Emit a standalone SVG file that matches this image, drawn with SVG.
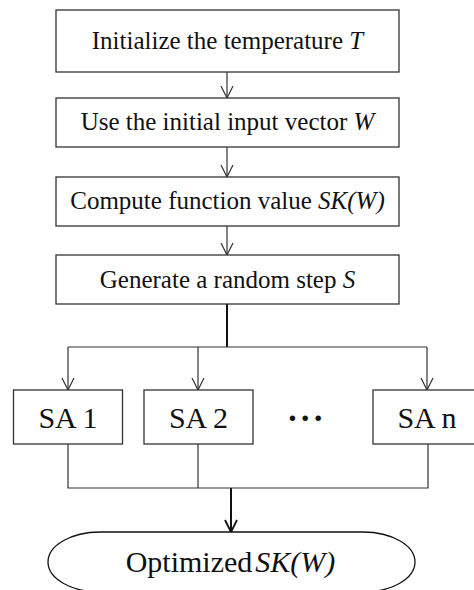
<svg xmlns="http://www.w3.org/2000/svg" width="474" height="590" viewBox="0 0 474 590">
<defs>
<style>
.box{fill:#fff;stroke:#333;stroke-width:1.3}
.t{font-family:"Liberation Serif","Times New Roman",serif;font-size:25px;fill:#111;text-anchor:middle}
.sa{font-family:"Liberation Serif","Times New Roman",serif;font-size:30px;fill:#111;text-anchor:middle}
.it{font-style:italic}
.ln{fill:none;stroke:#333;stroke-width:1.2}
.thick{fill:none;stroke:#111;stroke-width:2}
</style>
<marker id="ah" viewBox="0 0 14 14" refX="13" refY="7" markerWidth="14" markerHeight="14" markerUnits="userSpaceOnUse" orient="auto">
<path d="M1,1 L13,7 L1,13" fill="none" stroke="#333" stroke-width="1.2"/>
</marker>
<marker id="ah2" viewBox="0 0 14 14" refX="13" refY="7" markerWidth="14" markerHeight="14" markerUnits="userSpaceOnUse" orient="auto">
<path d="M1,1 L13,7 L1,13" fill="none" stroke="#111" stroke-width="1.8"/>
</marker>
</defs>
<rect width="474" height="590" fill="#fff"/>
<g id="connectors">
<line class="ln" x1="227" y1="72" x2="227" y2="98" marker-end="url(#ah)"/>
<line class="ln" x1="227" y1="147" x2="227" y2="177" marker-end="url(#ah)"/>
<line class="ln" x1="227" y1="226" x2="227" y2="255" marker-end="url(#ah)"/>
<line class="thick" x1="227" y1="304" x2="227" y2="347"/>
<line class="ln" x1="68" y1="347" x2="427" y2="347"/>
<line class="ln" x1="68" y1="347" x2="68" y2="390" marker-end="url(#ah)"/>
<line class="ln" x1="198" y1="347" x2="198" y2="390" marker-end="url(#ah)"/>
<line class="ln" x1="427" y1="347" x2="427" y2="390" marker-end="url(#ah)"/>
<polyline class="ln" points="68,444 68,488 428,488 428,444"/>
<line class="ln" x1="198" y1="444" x2="198" y2="488"/>
<line class="thick" x1="231" y1="488" x2="231" y2="532" marker-end="url(#ah2)"/>
</g>
<g id="n1"><rect class="box" x="56" y="10" width="343" height="62"/><text class="t" x="227.5" y="49">Initialize the temperature <tspan class="it">T</tspan></text></g>
<g id="n2"><rect class="box" x="56" y="98" width="343" height="49"/><text class="t" x="227.5" y="130">Use the initial input vector <tspan class="it">W</tspan></text></g>
<g id="n3"><rect class="box" x="56" y="177" width="343" height="49"/><text class="t" x="227.5" y="209">Compute function value <tspan class="it">SK(W)</tspan></text></g>
<g id="n4"><rect class="box" x="56" y="255" width="343" height="49"/><text class="t" x="227.5" y="288">Generate a random step <tspan class="it">S</tspan></text></g>
<g id="sa1"><rect class="box" x="13.5" y="390" width="109" height="54"/><text class="sa" x="68" y="428">SA 1</text></g>
<g id="sa2"><rect class="box" x="144" y="390" width="109" height="54"/><text class="sa" x="198.5" y="428">SA 2</text></g>
<g id="dots"><text x="306" y="429" style="font-family:'Liberation Serif',serif;font-size:34px;font-weight:bold;fill:#111;text-anchor:middle;letter-spacing:1.5px">···</text></g>
<g id="san"><rect class="box" x="373" y="390" width="109" height="54"/><text class="sa" x="427" y="428">SA n</text></g>
<g id="out"><path class="box" d="M100,532 H363 A52,30 0 0 1 363,592 H100 A52,30 0 0 1 100,532 Z" style="stroke:#111"/><text class="sa" x="230.5" y="572">Optimized<tspan class="it" dx="3">SK(W)</tspan></text></g>
</svg>
